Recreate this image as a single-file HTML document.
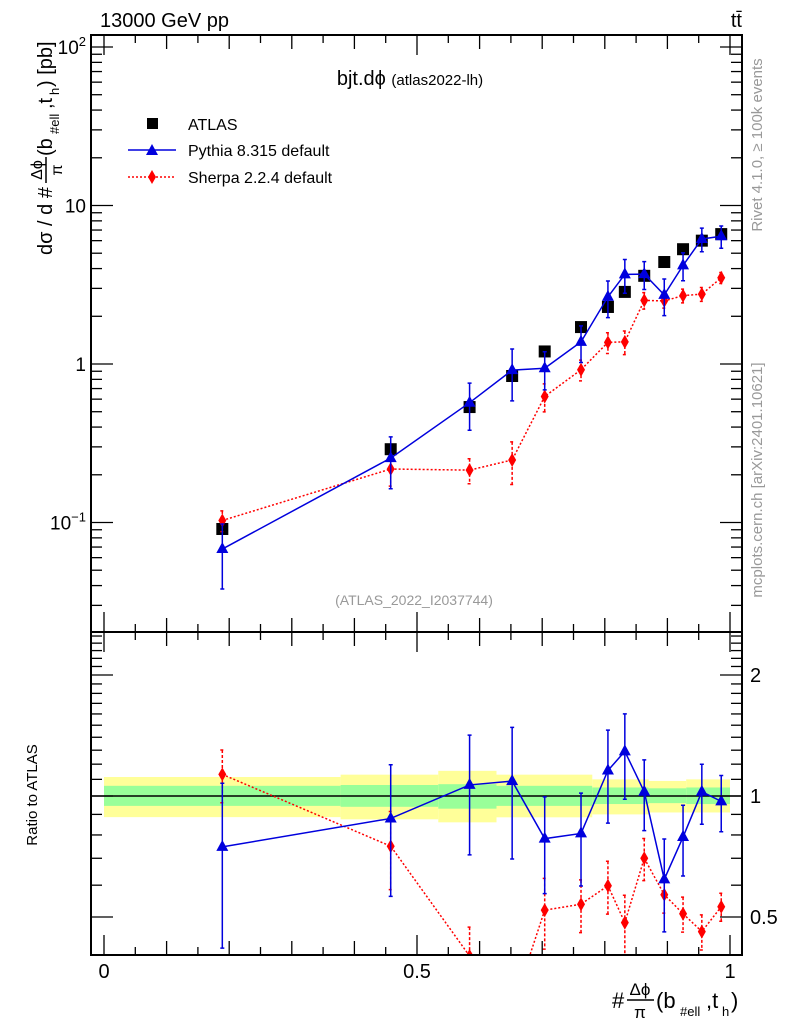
<!DOCTYPE html>
<html><head><meta charset="utf-8"><style>
body{margin:0;background:#fff;}
svg{display:block;font-family:"Liberation Sans",sans-serif;}
</style></head><body>
<svg id="chart" width="786" height="1024" viewBox="0 0 786 1024" xmlns="http://www.w3.org/2000/svg">
<text x="100" y="27" font-size="20">13000 GeV pp</text>
<text x="742" y="27" font-size="20" text-anchor="end">tt̄</text>
<text x="410" y="85" font-size="20" text-anchor="middle">bjt.dϕ <tspan font-size="15">(atlas2022-lh)</tspan></text>
<text x="414" y="605" font-size="14" fill="#999" text-anchor="middle">(ATLAS_2022_I2037744)</text>
<text transform="translate(762,145) rotate(-90)" font-size="15" fill="#999" text-anchor="middle">Rivet 4.1.0, ≥ 100k events</text>
<text transform="translate(762,480) rotate(-90)" font-size="15" fill="#999" text-anchor="middle">mcplots.cern.ch [arXiv:2401.10621]</text>
<g transform="translate(52,150) rotate(-90)">
<text x="-105" y="0" font-size="20">dσ / d #</text>
<text x="-20" y="-10" font-size="16" text-anchor="middle">Δϕ</text>
<line x1="-33" y1="-6" x2="-7" y2="-6" stroke="#000" stroke-width="1.5"/>
<text x="-20" y="10" font-size="16" text-anchor="middle">π</text>
<text x="-6" y="0" font-size="20">(b</text>
<text x="16" y="7" font-size="13">#ell</text>
<text x="41" y="0" font-size="20">,t</text>
<text x="55" y="7" font-size="13">h</text>
<text x="63" y="0" font-size="20">) [pb]</text>
</g>
<text transform="translate(37,795) rotate(-90)" font-size="15" text-anchor="middle">Ratio to ATLAS</text>
<g>
<text x="612" y="1008" font-size="22">#</text>
<text x="640" y="995" font-size="17" text-anchor="middle">Δϕ</text>
<line x1="627" y1="1000" x2="654" y2="1000" stroke="#000" stroke-width="1.5"/>
<text x="640" y="1018" font-size="17" text-anchor="middle">π</text>
<text x="656" y="1008" font-size="22">(b</text>
<text x="680" y="1016" font-size="13">#ell</text>
<text x="706" y="1008" font-size="22">,t</text>
<text x="722" y="1016" font-size="13">h</text>
<text x="731" y="1008" font-size="22">)</text>
</g>
<g id="legend">
<rect x="147" y="118" width="11" height="11" fill="#000"/>
<text x="188" y="130" font-size="16">ATLAS</text>
<line x1="128" y1="150" x2="176" y2="150" stroke="#0000dd" stroke-width="1.5"/>
<polygon points="152,144 158,155 146,155" fill="#0000dd"/>
<text x="188" y="156" font-size="16">Pythia 8.315 default</text>
<line x1="128" y1="177" x2="176" y2="177" stroke="red" stroke-width="1.5" stroke-dasharray="2,2"/>
<polygon points="152,170 156,177 152,184 148,177" fill="red"/>
<text x="188" y="183" font-size="16">Sherpa 2.2.4 default</text>
</g>
<g id="marks"></g>
<g id="axes"></g>
</svg>
<script>
const xVals=[0.189,0.458,0.584,0.652,0.704,0.762,0.805,0.832,0.863,0.895,0.925,0.955,0.986];
const atlas=[0.091,0.29,0.535,0.84,1.2,1.71,2.29,2.85,3.6,4.4,5.3,6.0,6.6];
const pythia=[0.068,0.255,0.57,0.915,0.94,1.38,2.65,3.68,3.69,2.73,4.19,6.15,6.4];
const pythiaRelErr=[0.44,0.36,0.33,0.36,0.27,0.26,0.26,0.24,0.2,0.26,0.2,0.17,0.16];
const sherpa=[0.103,0.2175,0.214,0.248,0.624,0.92,1.37,1.38,2.52,2.5,2.7,2.76,3.5];
const sherpaRelErr=[0.15,0.22,0.18,0.3,0.2,0.15,0.15,0.17,0.12,0.1,0.1,0.1,0.08];
const bandEdges=[0,0.378,0.534,0.627,0.78,0.87,0.93,1.0];
const yellowUp=[1.115,1.13,1.155,1.13,1.1,1.09,1.1];
const yellowDn=[0.886,0.875,0.86,0.885,0.9,0.91,0.91];
const greenUp=[1.06,1.065,1.07,1.06,1.05,1.045,1.05];
const greenDn=[0.945,0.94,0.93,0.945,0.955,0.96,0.955];
const mainTickLabels=["10⁻¹","1","10","10²"];
const xTickLabels=["0","0.5","1"];

const NS="http://www.w3.org/2000/svg";
const L=91,R=742,T=35,M=632,B=955;
const X=v=>104+626*v;
const Y=v=>364-158.5*Math.log10(v);
const YR=v=>796-402*Math.log10(v);
const marks=document.getElementById('marks'), axes=document.getElementById('axes');
function mk(tag,attrs,parent){const e=document.createElementNS(NS,tag);for(const k in attrs)e.setAttribute(k,attrs[k]);parent.appendChild(e);return e;}

const clipR=mk('clipPath',{id:'cr'},marks);mk('rect',{x:L,y:M,width:R-L,height:B-M},clipR);
const clipM=mk('clipPath',{id:'cm'},marks);mk('rect',{x:L,y:T,width:R-L,height:M-T},clipM);
const gR=mk('g',{'clip-path':'url(#cr)'},marks);
const gM=mk('g',{'clip-path':'url(#cm)'},marks);
for(let i=0;i<bandEdges.length-1;i++){
  const x0=X(bandEdges[i]),x1=X(bandEdges[i+1]);
  const y=mk('rect',{x:x0,y:YR(yellowUp[i]),width:x1-x0,height:YR(yellowDn[i])-YR(yellowUp[i]),fill:'#ffff99'},gR);
  
  
  const g=mk('rect',{x:x0,y:YR(greenUp[i]),width:x1-x0,height:YR(greenDn[i])-YR(greenUp[i]),fill:'#99ff99'},gR);
  
  
}
mk('line',{x1:L,x2:R,y1:YR(1),y2:YR(1),stroke:'#000','stroke-width':1.5},gR);

function series(vals,rel,color,dash,shape,g,Yf,ratio){
  const pts=vals.map((v,i)=>[X(xVals[i]),Yf(ratio?v/atlas[i]:v)]);
  const pl=mk('polyline',{points:pts.map(p=>p.join(',')).join(' '),fill:'none',stroke:color,'stroke-width':1.5},g);
  if(dash)pl.setAttribute('stroke-dasharray','2,2');
  
  
  vals.forEach((v,i)=>{
    const c=ratio?v/atlas[i]:v;
    const x=X(xVals[i]),y=Yf(c),yt=Yf(c*(1+rel[i])),yb=Yf(Math.max(c*(1-rel[i]),1e-3));
    const eb=mk('path',{d:`M${x},${yt}V${yb}M${x-2},${yt}h4M${x-2},${yb}h4`,stroke:color,'stroke-width':1.5,fill:'none'},g);
    if(dash)eb.setAttribute('stroke-dasharray','3,2');
    
    
    let m;
    if(shape==='tri')m=mk('polygon',{points:`${x},${y-7} ${x+6},${y+4} ${x-6},${y+4}`,fill:color},g);
    else m=mk('polygon',{points:`${x},${y-7} ${x+4},${y} ${x},${y+7} ${x-4},${y}`,fill:color},g);
    
    
  });
}
atlas.forEach((v,i)=>{
  const r=mk('rect',{x:X(xVals[i])-6,y:Y(v)-6,width:12,height:12,fill:'#000'},gM);
  
  
});
series(sherpa,sherpaRelErr,'red',true,'dia',gM,Y,false);
series(pythia,pythiaRelErr,'#0000dd',false,'tri',gM,Y,false);
series(sherpa,sherpaRelErr,'red',true,'dia',gR,YR,true);
series(pythia,pythiaRelErr,'#0000dd',false,'tri',gR,YR,true);

const f1=mk('rect',{x:L,y:T,width:R-L,height:M-T,fill:'none',stroke:'#000','stroke-width':2},axes);

const f2=mk('rect',{x:L,y:M,width:R-L,height:B-M,fill:'none',stroke:'#000','stroke-width':2},axes);

for(let k=0;k<=20;k++){
  const v=k*0.05,x=X(v),len=(k%10===0)?20:(k%2===0?14:8);
  [[T,1],[M,-1],[M,1],[B,-1]].forEach(([y0,d])=>mk('line',{x1:x,x2:x,y1:y0,y2:y0+d*len,stroke:'#000','stroke-width':1.3},axes));
}
xTickLabels.forEach((t,i)=>{
  const tx=mk('text',{x:X(i*0.5),y:978,'font-size':20,'text-anchor':'middle'},axes);tx.textContent=t;
  
  
});
for(let e=-2;e<=2;e++)for(let m=1;m<10;m++){
  const v=m*Math.pow(10,e),y=Y(v);if(y<T||y>M)continue;
  const len=m===1?22:11;
  mk('line',{x1:L,x2:L+len,y1:y,y2:y,stroke:'#000','stroke-width':1.3},axes);
  mk('line',{x1:R,x2:R-len,y1:y,y2:y,stroke:'#000','stroke-width':1.3},axes);
}
[0.1,1,10,100].forEach((v,i)=>{
  const tx=mk('text',{x:86,y:Y(v)+7,'font-size':19,'text-anchor':'end'},axes);
  const lab=mainTickLabels[i];
  if(lab.startsWith('10')&&lab.length>2){tx.textContent='10';const s=mk('tspan',{'font-size':13,dy:-8},tx);s.textContent=lab.slice(2)==='²'?'2':'−1';}
  else tx.textContent=lab;
  
  
});
[0.4,0.5,0.6,0.7,0.8,0.9,1,1.1,1.2,1.3,1.4,1.5,1.6,1.7,1.8,1.9,2,2.1,2.2,2.3,2.4,2.5].forEach(v=>{
  const y=YR(v);if(y<M||y>B)return;
  const len=(v===0.5||v===1||v===2)?22:11;
  mk('line',{x1:L,x2:L+len,y1:y,y2:y,stroke:'#000','stroke-width':1.3},axes);
  mk('line',{x1:R,x2:R-len,y1:y,y2:y,stroke:'#000','stroke-width':1.3},axes);
});
[[2,'2'],[1,'1'],[0.5,'0.5']].forEach(([v,t])=>{
  const tx=mk('text',{x:750,y:YR(v)+7,'font-size':20},axes);tx.textContent=t;
  
  
});
</script>
</body></html>
